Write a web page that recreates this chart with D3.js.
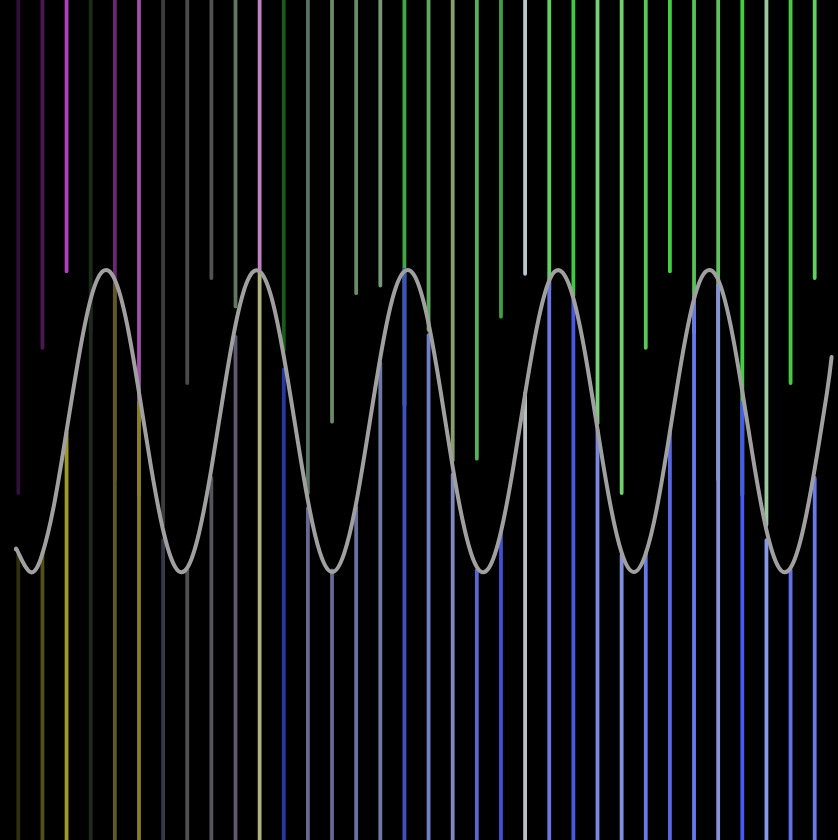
<!DOCTYPE html>
<html>
<head>
<meta charset="utf-8">
<script src="https://cdn.jsdelivr.net/npm/d3@7"></script>
<style>
  html, body { margin: 0; padding: 0; background: #000; }
  svg { display: block; }
</style>
</head>
<body>
<div id="chart"></div>
<script>
// ---- data (levels are % of height measured from the bottom) ----
const columns = d3.range(34);

const topLevels = [41.3, 58.6, 67.7, 60.4, 42.9, 41.1, 37.5, 54.4, 66.9, 63.5,
                   67.9, 58.3, 41.3, 49.8, 65.1, 66.0, 51.8, 60.7, 45.2, 45.4,
                   62.3, 67.4, 65.5, 64.8, 49.6, 41.3, 58.6, 67.7, 60.4, 42.9,
                   41.1, 37.5, 54.4, 66.9];

const bottomLevels = [33.9, 34.2, 48.5, 64.6, 66.1, 52.1, 35.7, 32.1, 43.1, 59.9,
                      67.6, 56.0, 39.5, 32.1, 39.6, 56.8, 67.9, 60.1, 43.5, 32.1,
                      36.5, 53.2, 66.5, 64.3, 48.8, 33.9, 34.2, 48.5, 64.6, 66.1,
                      52.1, 35.7, 32.1, 43.1];

const topColors = ["#301038", "#4c1850", "#b040b8", "#1c2a1c", "#6a2870", "#a050a8",
                   "#3c3c3c", "#4a4a4a", "#525252", "#607860", "#c080c0", "#1a5a1a",
                   "#5a7060", "#6a8a6a", "#6a8a6a", "#789878", "#40a848", "#60a860",
                   "#88a070", "#58b058", "#40a040", "#b8c8c8", "#60d060", "#40c840",
                   "#78d078", "#70d070", "#58c858", "#40d040", "#58c058", "#60c060",
                   "#40d040", "#a0c8a0", "#48c848", "#60d060"];

const bottomColors = ["#303010", "#505018", "#a09828", "#202820", "#605828", "#888020",
                      "#383848", "#505050", "#555560", "#605870", "#b0b080", "#2838a0",
                      "#686890", "#686898", "#6a70a0", "#7078a8", "#4050c0", "#7080c8",
                      "#8088c0", "#5868d0", "#4050d0", "#b8c0c0", "#6878e0", "#4858e0",
                      "#7888e0", "#8090e0", "#6878e8", "#5868e0", "#6878e8", "#8890d8",
                      "#4858f0", "#8898e8", "#6070e8", "#6878e8"];

// wave samples: position in column units, level in % height
const waveT = [-0.1, 0, 0.5, 1, 1.5, 2, 2.5, 3, 3.5, 4, 4.5, 5, 5.5, 6, 6.5, 7, 7.5, 8,
               8.5, 9, 9.5, 10, 10.5, 11, 11.5, 12, 12.5, 13, 13.5, 14, 14.5, 15, 15.5,
               16, 16.5, 17, 17.5, 18, 18.5, 19, 19.5, 20, 20.5, 21, 21.5, 22, 22.5, 23,
               23.5, 24, 24.5, 25, 25.5, 26, 26.5, 27, 27.5, 28, 28.5, 29, 29.5, 30,
               30.5, 31, 31.5, 32, 32.5, 33, 33.5, 33.7];
const waveLevel = [34.6, 34.2, 31.9, 34.1, 40.2, 48.7, 57.4, 64.4, 67.7, 66.7, 61.5, 53.3,
                   44.4, 36.9, 32.5, 32.4, 36.7, 44.2, 53.1, 61.3, 66.6, 67.7, 64.5, 57.6,
                   48.9, 40.4, 34.2, 31.9, 34.1, 40.1, 48.6, 57.4, 64.4, 67.7, 66.7, 61.5,
                   53.4, 44.4, 36.9, 32.5, 32.4, 36.7, 44.2, 53.1, 61.2, 66.6, 67.7, 64.5,
                   57.7, 48.9, 40.4, 34.2, 31.9, 34.1, 40.1, 48.6, 57.4, 64.4, 67.7, 66.7,
                   61.5, 53.4, 44.5, 36.9, 32.5, 32.4, 36.7, 44.2, 53.1, 57.5];

// ---- drawing ----
const W = 838, H = 840;
const svg = d3.select("#chart").append("svg")
  .attr("width", W).attr("height", H)
  .style("background", "#000");

svg.append("rect").attr("width", W).attr("height", H).attr("fill", "#000");

const x = d3.scaleLinear().domain([0, 33]).range([18.3, 814.7]);
const y = d3.scaleLinear().domain([0, 100]).range([H, 0]);

svg.append("g").selectAll("line.top")
  .data(columns)
  .join("line")
  .attr("class", "top")
  .attr("x1", i => x(i)).attr("x2", i => x(i))
  .attr("y1", y(100)).attr("y2", i => y(topLevels[i]))
  .attr("stroke", i => topColors[i])
  .attr("stroke-width", 3.8)
  .attr("stroke-linecap", "round");

svg.append("g").selectAll("line.bottom")
  .data(columns)
  .join("line")
  .attr("class", "bottom")
  .attr("x1", i => x(i)).attr("x2", i => x(i))
  .attr("y1", y(0)).attr("y2", i => y(bottomLevels[i]))
  .attr("stroke", i => bottomColors[i])
  .attr("stroke-width", 3.8)
  .attr("stroke-linecap", "round");

const wave = d3.line()
  .x((d, i) => x(waveT[i]))
  .y((d, i) => y(waveLevel[i]))
  .curve(d3.curveNatural);

svg.append("path")
  .datum(waveT)
  .attr("d", wave)
  .attr("fill", "none")
  .attr("stroke", "#a0a0a0")
  .attr("stroke-width", 4)
  .attr("stroke-linecap", "round");
</script>
</body>
</html>
